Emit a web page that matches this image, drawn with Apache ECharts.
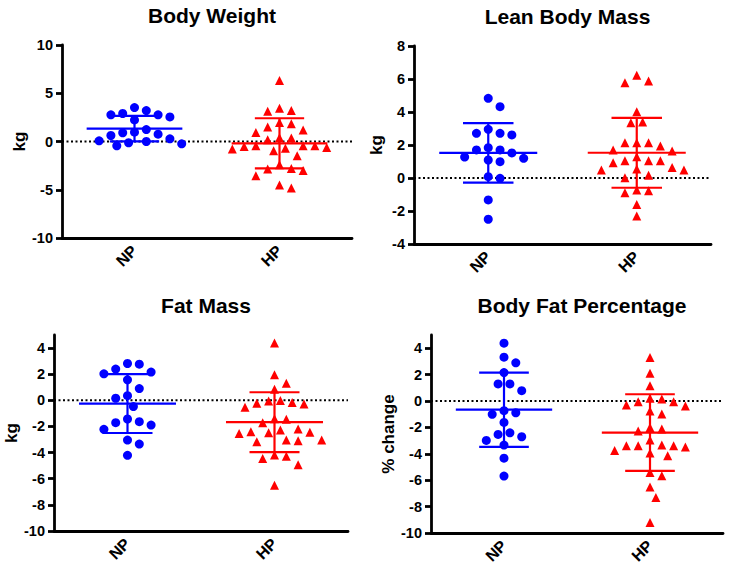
<!DOCTYPE html>
<html>
<head>
<meta charset="utf-8">
<script src="https://cdn.jsdelivr.net/npm/echarts@6/dist/echarts.min.js"></script>
<style>
html,body{margin:0;padding:0;background:#fff;}
#chart{width:742px;height:575px;}
</style>
</head>
<body>
<div id="chart"></div>
<script>
// ---------------- DATA ----------------
const categories = ['NP', 'HP'];
const panelTitles = ['Body Weight', 'Lean Body Mass', 'Fat Mass', 'Body Fat Percentage'];
const yAxisNames = ['kg', 'kg', 'kg', '% change'];

// Body Weight (kg)
const bwNP = [3.52, 3.21, 2.90, 2.76, 2.76, 2.55, 2.24, 1.24, 0.90, 0.76, 0.97, 0.62, 0.07, -0.13, -0.44, -0.24, 0.00, 0.28];
const bwHP = [6.31, 3.21, 3.14, 3.45, 1.96, 1.49, 1.83, 0.93, 1.18, 0.35, 0.18, 0.38,
  -0.44, -0.44, -0.62, -0.79, -0.96, -0.69, -0.52, -0.44, -1.48, -2.79, -3.00, -3.55, -2.86, -2.41, -4.82, -4.51];
const bwMean = [1.34, -0.19];
const bwSD = [1.32, 2.60];
const bwTicks = [-10, -5, 0, 5, 10];

// Lean Body Mass (kg)
const lbmNP = [4.83, 4.32, 2.95, 2.71, 2.61, 2.71, 1.84, 1.70, 1.70, 1.52, 1.27, 1.09, 0.99, 1.19, -0.02, 0.08, -1.33, -2.50];
const lbmHP = [6.22, 5.88, 5.78, 4.02, 3.35, 3.39, 2.14, 2.14, 1.94, 2.14, 1.70, 1.64, 1.29, 1.05,
  0.93, 1.05, 1.05, 0.63, 0.48, 0.48, 0.55, 0.16, 0.02, -0.77, -0.89, -0.73, -1.60, -2.30];
const lbmMean = [1.52, 1.53];
const lbmSD = [1.80, 2.12];
const lbmTicks = [-4, -2, 0, 2, 4, 6, 8];

// Fat Mass (kg)
const fmNP = [2.77, 2.82, 2.16, 2.03, 2.39, 1.57, 0.90, 0.16, 0.36, -0.48, -1.63, -1.89, -2.22, -1.71, -1.43, -3.35, -3.04, -4.21];
const fmHP = [4.38, 1.95, 1.31, 0.85, -0.05, -0.22, -0.53, -0.28, -0.17, -0.02, -1.45, -1.40, -1.71, -2.45,
  -2.53, -2.19, -2.27, -2.48, -2.40, -3.04, -3.17, -3.09, -3.04, -4.19, -4.45, -4.27, -4.93, -6.49];
const fmMean = [-0.25, -1.67];
const fmSD = [2.25, 2.29];
const fmTicks = [-10, -8, -6, -4, -2, 0, 2, 4];

// Body Fat Percentage (% change)
const bfpNP = [4.38, 3.32, 2.89, 2.15, 1.29, 1.29, 0.78, -1.01, -0.73, -0.89, -1.62, -2.41, -2.71, -2.99, -2.53, -3.34, -4.33, -5.69];
const bfpHP = [3.29, 2.10, 1.16, -0.05, -0.30, 0.15, 0.20, -0.38, -0.05, -0.76, -0.99, -2.13, -2.28, -2.00,
  -2.96, -3.34, -3.39, -3.49, -3.39, -3.39, -3.93, -4.15, -3.75, -5.67, -5.42, -6.51, -7.31, -9.21];
const bfpMean = [-0.66, -2.39];
const bfpSD = [2.81, 2.90];
const bfpTicks = [-10, -8, -6, -4, -2, 0, 2, 4];

// ---------------- LAYOUT / STYLE ----------------
const FONT = '"Liberation Sans", Arial, Helvetica, sans-serif';
const BLUE = '#0000ff';
const RED = '#ff0000';
const panels = [
  { np: bwNP, hp: bwHP, mean: bwMean, sd: bwSD, ticks: bwTicks, min: -10, max: 10,
    grid: { left: 62, top: 45, width: 290, height: 193 }, nameGap: 34 },
  { np: lbmNP, hp: lbmHP, mean: lbmMean, sd: lbmSD, ticks: lbmTicks, min: -4, max: 8,
    grid: { left: 414, top: 46, width: 297, height: 198 }, nameGap: 29 },
  { np: fmNP, hp: fmHP, mean: fmMean, sd: fmSD, ticks: fmTicks, min: -10, max: 5,
    grid: { left: 54, top: 335, width: 294, height: 196 }, nameGap: 30 },
  { np: bfpNP, hp: bfpHP, mean: bfpMean, sd: bfpSD, ticks: bfpTicks, min: -10, max: 5,
    grid: { left: 431, top: 335, width: 292, height: 198 }, nameGap: 28 }
];

// beeswarm: horizontal offsets computed from values in pixel space
function swarm(values, center, pxPerY, pxPerX) {
  const step = 5.9, D = 11.4;
  const order = values.map((v, i) => i).sort((a, b) => values[b] - values[a]);
  const placed = [];
  const out = new Array(values.length);
  for (const i of order) {
    const y = values[i] * pxPerY;
    let dx = null;
    for (let k = 0; dx === null && k < 60; k++) {
      const cands = k === 0 ? [0] : [k * step, -k * step];
      for (const c of cands) {
        if (placed.every(p => (p.x - c) * (p.x - c) + (p.y - y) * (p.y - y) >= D * D)) { dx = c; break; }
      }
    }
    placed.push({ x: dx, y: y });
    out[i] = [center + dx / pxPerX, values[i]];
  }
  return out;
}

const option = {
  animation: false,
  backgroundColor: '#fff',
  textStyle: { fontFamily: FONT },
  title: [], grid: [], xAxis: [], yAxis: [], series: []
};

panels.forEach((p, g) => {
  option.grid.push(Object.assign({ containLabel: false }, p.grid));
  option.title.push({
    text: panelTitles[g],
    left: p.grid.left + p.grid.width / 2,
    top: p.grid.top - 45,
    textAlign: 'center',
    textStyle: { fontFamily: FONT, fontSize: 21, fontWeight: 'bold', color: '#000' }
  });
  // category axis (labels & ticks)
  option.xAxis.push({
    type: 'category', gridIndex: g, data: categories, boundaryGap: true,
    axisLine: { onZero: false, lineStyle: { color: '#000', width: 2.8 } },
    axisTick: { alignWithLabel: true, length: 6, lineStyle: { color: '#000', width: 2.8 } },
    axisLabel: { rotate: 45, margin: 10, color: '#000', fontFamily: FONT, fontSize: 16, fontWeight: 'bold' },
    splitLine: { show: false }
  });
  // hidden value axis for positioned marks
  option.xAxis.push({ type: 'value', gridIndex: g, min: 0.5, max: 2.5, show: false,
    axisLine: { onZero: false }, splitLine: { show: false } });
  option.yAxis.push({
    type: 'value', gridIndex: g, min: p.min, max: p.max,
    name: yAxisNames[g], nameLocation: 'middle', nameRotate: 90, nameGap: p.nameGap,
    nameTextStyle: { fontFamily: FONT, fontSize: 17, fontWeight: 'bold', color: '#000' },
    axisLine: { show: true, onZero: false, lineStyle: { color: '#000', width: 2.8 } },
    axisTick: { show: true, length: 6, customValues: p.ticks, lineStyle: { color: '#000', width: 2.8 } },
    axisLabel: { customValues: p.ticks, margin: 9, color: '#000', fontFamily: FONT, fontSize: 14.5, fontWeight: 'bold' },
    splitLine: { show: false }
  });

  const pxPerY = p.grid.height / (p.max - p.min);
  const pxPerX = p.grid.width / 2;

  // zero dotted line
  option.series.push({
    type: 'line', xAxisIndex: 2 * g + 1, yAxisIndex: g, data: [[0.5, 0], [2.5, 0]],
    symbol: 'none', silent: true, z: 1,
    lineStyle: { color: '#000', width: 2, type: [2, 2.5] }
  });
  // error bars (mean ± SD)
  option.series.push({
    type: 'custom', xAxisIndex: 2 * g + 1, yAxisIndex: g, z: 2,
    data: [[1, p.mean[0], p.sd[0]], [2, p.mean[1], p.sd[1]]],
    renderItem: function (params, api) {
      const c = api.value(0), m = api.value(1), s = api.value(2);
      const col = params.dataIndex === 0 ? BLUE : RED;
      const segs = [
        [[c - 0.33, m], [c + 0.33, m]],
        [[c, m - s], [c, m + s]],
        [[c - 0.17, m + s], [c + 0.17, m + s]],
        [[c - 0.17, m - s], [c + 0.17, m - s]]
      ];
      return {
        type: 'group',
        children: segs.map(sg => {
          const a = api.coord(sg[0]), b = api.coord(sg[1]);
          return { type: 'line', shape: { x1: a[0], y1: a[1], x2: b[0], y2: b[1] },
                   style: { stroke: col, lineWidth: 2.2 } };
        })
      };
    }
  });
  // points
  option.series.push({
    type: 'scatter', xAxisIndex: 2 * g + 1, yAxisIndex: g, z: 3,
    symbol: 'circle', symbolSize: 9, itemStyle: { color: BLUE, opacity: 1 },
    data: swarm(p.np, 1, pxPerY, pxPerX)
  });
  option.series.push({
    type: 'scatter', xAxisIndex: 2 * g + 1, yAxisIndex: g, z: 3,
    symbol: 'triangle', symbolSize: 9, itemStyle: { color: RED, opacity: 1 },
    data: swarm(p.hp, 2, pxPerY, pxPerX)
  });
});

const chart = echarts.init(document.getElementById('chart'), null, { renderer: 'svg' });
chart.setOption(option);
</script>
</body>
</html>
